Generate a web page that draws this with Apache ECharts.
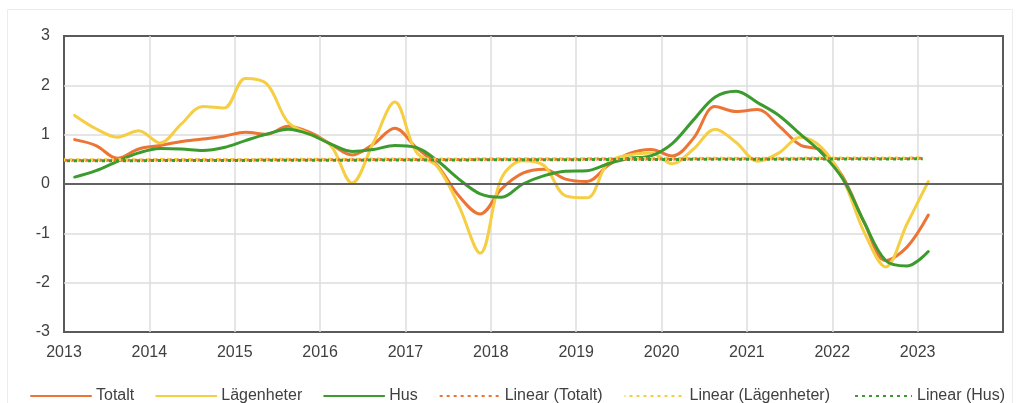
<!DOCTYPE html>
<html>
<head>
<meta charset="utf-8">
<script src="https://cdn.jsdelivr.net/npm/echarts@6/dist/echarts.min.js"></script>
<style>
  html, body { margin: 0; padding: 0; background: #ffffff; }
  #chart { width: 1020px; height: 403px; }
</style>
</head>
<body>
<div id="chart"></div>
<script>
// Quarterly observations, 2013 K1 – 2023 K1
const quarters = [
  '2013K1','2013K2','2013K3','2013K4','2014K1','2014K2','2014K3','2014K4',
  '2015K1','2015K2','2015K3','2015K4','2016K1','2016K2','2016K3','2016K4',
  '2017K1','2017K2','2017K3','2017K4','2018K1','2018K2','2018K3','2018K4',
  '2019K1','2019K2','2019K3','2019K4','2020K1','2020K2','2020K3','2020K4',
  '2021K1','2021K2','2021K3','2021K4','2022K1','2022K2','2022K3','2022K4',
  '2023K1'
];

const totalt = [
  0.90, 0.78, 0.52, 0.71, 0.78, 0.86, 0.91, 0.97, 1.05, 1.01,
  1.17, 1.05, 0.81, 0.59, 0.81, 1.13, 0.74, 0.37, -0.24, -0.61,
  -0.10, 0.22, 0.30, 0.10, 0.05, 0.38, 0.62, 0.70, 0.57, 0.93,
  1.57, 1.47, 1.51, 1.18, 0.79, 0.68, 0.14, -0.78, -1.55, -1.28,
  -0.63
];

const lagenheter = [
  1.39, 1.12, 0.95, 1.08, 0.83, 1.22, 1.57, 1.54, 2.14, 2.03,
  1.25, 1.01, 0.78, 0.02, 0.84, 1.66, 0.65, 0.35, -0.44, -1.40,
  0.12, 0.47, 0.37, -0.24, -0.28, 0.44, 0.59, 0.63, 0.41, 0.71,
  1.11, 0.84, 0.46, 0.63, 0.95, 0.74, 0.10, -0.98, -1.68, -0.81,
  0.05
];

const hus = [
  0.14, 0.27, 0.46, 0.63, 0.72, 0.71, 0.68, 0.74, 0.88, 1.01,
  1.11, 1.01, 0.81, 0.66, 0.70, 0.78, 0.74, 0.47, 0.10, -0.20,
  -0.27, 0.00, 0.17, 0.26, 0.27, 0.41, 0.52, 0.57, 0.82, 1.30,
  1.76, 1.88, 1.65, 1.39, 1.01, 0.63, 0.10, -0.78, -1.55, -1.66,
  -1.37
];

// Linear trend lines: start/end year and the trend value at each end
const trendSpan = [2013, 2023.06];
const trendTotalt = [0.48, 0.52];
const trendLagenheter = [0.49, 0.53];
const trendHus = [0.47, 0.51];

const yearTicks = [2013, 2014, 2015, 2016, 2017, 2018, 2019, 2020, 2021, 2022, 2023];
const yTicks = [-3, -2, -1, 0, 1, 2, 3];

const seriesNames = ['Totalt', 'Lägenheter', 'Hus'];
const trendNames = ['Linear (Totalt)', 'Linear (Lägenheter)', 'Linear (Hus)'];
const colors = ['#EC7435', '#F5CE44', '#3C9B2E'];

// Place each quarter at its mid-point on a continuous year axis
function quarterPos(label) {
  const y = parseInt(label.slice(0, 4), 10);
  const q = parseInt(label.slice(5), 10);
  return y + (q - 1) / 4 + 0.125;
}
const xs = quarters.map(quarterPos);

function pairs(values) {
  return values.map((v, i) => [xs[i], v]);
}
function trendPairs(ends) {
  return ends.map((v, i) => [trendSpan[i], v]);
}

const seriesData = [totalt, lagenheter, hus];
const trendData = [trendTotalt, trendLagenheter, trendHus];
const font = "'Liberation Sans', Arial, sans-serif";
const textColor = '#404040';

const series = [];
// Zero reference line
series.push({
  type: 'line',
  data: [],
  silent: true,
  z: 1,
  markLine: {
    silent: true,
    symbol: 'none',
    label: { show: false },
    lineStyle: { color: '#636363', width: 2, type: 'solid' },
    data: [{ yAxis: 0 }]
  }
});

seriesData.forEach((vals, i) => {
  series.push({
    name: seriesNames[i],
    type: 'line',
    data: pairs(vals),
    smooth: 0.35,
    showSymbol: false,
    symbol: 'none',
    z: 3,
    lineStyle: { color: colors[i], width: 3, cap: 'round', join: 'round' },
    itemStyle: { color: colors[i] }
  });
});

trendData.forEach((ends, i) => {
  series.push({
    name: trendNames[i],
    type: 'line',
    data: trendPairs(ends),
    showSymbol: false,
    symbol: 'none',
    z: 4,
    lineStyle: { color: colors[i], width: 3, type: [3, 4], dashOffset: i * 2, cap: 'butt' },
    itemStyle: { color: colors[i] }
  });
});

const chart = echarts.init(document.getElementById('chart'), null, { renderer: 'canvas' });
chart.setOption({
  animation: false,
  backgroundColor: '#ffffff',
  textStyle: { fontFamily: font },
  graphic: [{
    type: 'rect',
    shape: { x: 7.5, y: 9.5, width: 1005, height: 400 },
    style: { fill: 'none', stroke: '#ececec', lineWidth: 1 },
    silent: true,
    z: -10
  }],
  grid: {
    left: 64, right: 17, top: 36, bottom: 71,
    show: true,
    borderColor: '#5a5a5a',
    borderWidth: 2,
    backgroundColor: 'transparent'
  },
  legend: {
    left: 30,
    top: 388,
    padding: 0,
    itemWidth: 60,
    itemHeight: 14,
    itemGap: 21,
    itemStyle: { opacity: 0 },
    data: seriesNames.concat(trendNames),
    textStyle: { fontFamily: font, fontSize: 16, color: textColor }
  },
  xAxis: {
    type: 'value',
    min: 2013,
    max: 2024,
    interval: 1,
    axisLine: { show: false },
    axisTick: { show: false },
    splitLine: {
      show: true, showMinLine: false, showMaxLine: false,
      lineStyle: { color: '#dcdcdc', width: 1.5 }
    },
    axisLabel: {
      margin: 13,
      fontFamily: font,
      fontSize: 16,
      color: textColor,
      formatter: v => (yearTicks.indexOf(v) >= 0 ? String(v) : '')
    }
  },
  yAxis: {
    type: 'value',
    min: yTicks[0],
    max: yTicks[yTicks.length - 1],
    interval: 1,
    axisLine: { show: false },
    axisTick: { show: false },
    splitLine: {
      show: true, showMinLine: false, showMaxLine: false,
      lineStyle: { color: '#dcdcdc', width: 1.5 }
    },
    axisLabel: {
      margin: 14,
      fontFamily: font,
      fontSize: 16,
      color: textColor
    }
  },
  series: series
});
</script>
</body>
</html>
